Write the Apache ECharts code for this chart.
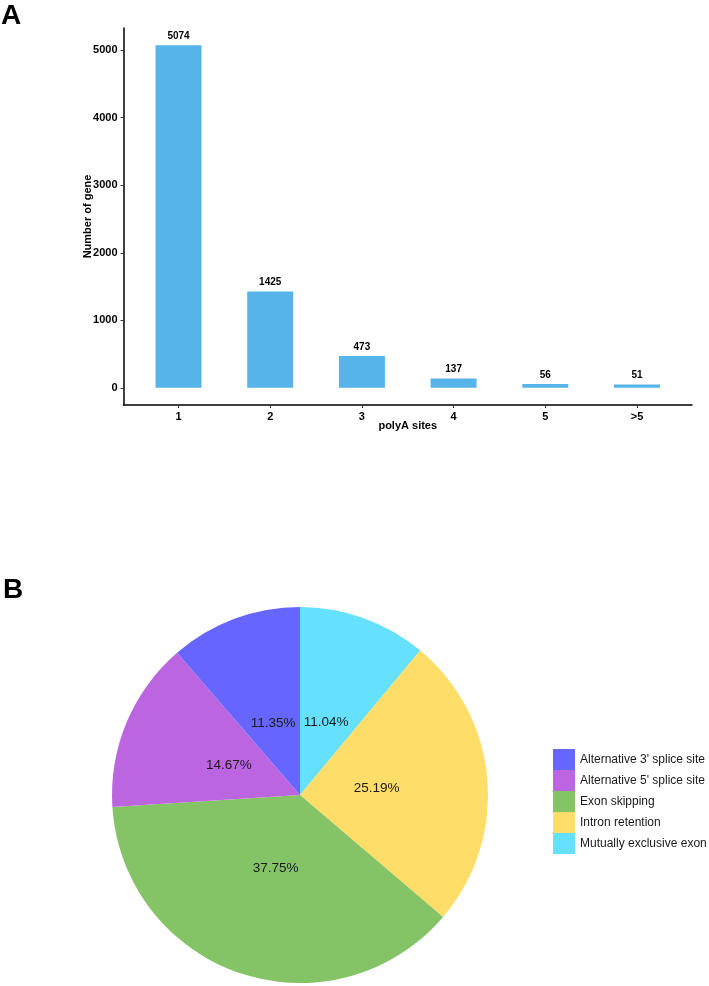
<!DOCTYPE html>
<html>
<head>
<meta charset="utf-8">
<script src="https://cdn.jsdelivr.net/npm/echarts@6/dist/echarts.min.js"></script>
<style>
html,body{margin:0;padding:0;background:#fff;}
#main{width:709px;height:986px;}
</style>
</head>
<body>
<div id="main"></div>
<script>
// Panel A data
const siteCategories = ['1', '2', '3', '4', '5', '>5'];
const geneCounts = [5074, 1425, 473, 137, 56, 51];
const yTickValues = [0, 1000, 2000, 3000, 4000, 5000];

// Panel B data
const eventNames = ['Alternative 3\' splice site', 'Alternative 5\' splice site', 'Exon skipping', 'Intron retention', 'Mutually exclusive exon'];
const eventPercents = [11.35, 14.67, 37.75, 25.19, 11.04];
const eventColors = ['#6666FF', '#BB66E0', '#84C466', '#FEDE68', '#66E0FF'];

const FONT = '"Liberation Sans", Arial, Helvetica, sans-serif';

const positions = siteCategories.map((c, i) => i + 1);
const barData = siteCategories.map((c, i) => [i + 1, geneCounts[i]]);

// pie drawn clockwise from 12 o'clock in reversed order (as in the reference)
const pieOrder = [4, 3, 2, 1, 0];
const pieData = pieOrder.map(i => ({
  name: eventNames[i],
  value: eventPercents[i],
  itemStyle: { color: eventColors[i] }
}));
const pieLabelData = pieOrder.map(i => ({
  name: eventNames[i],
  value: eventPercents[i]
}));

const yMin = -0.05 * geneCounts[0];
const yMax = geneCounts[0] * 1.05;

const chart = echarts.init(document.getElementById('main'), null, { renderer: 'canvas' });
chart.setOption({
  animation: false,
  backgroundColor: '#fff',
  textStyle: { fontFamily: FONT },
  graphic: [
    { type: 'text', left: 1, top: 2, style: { text: 'A', font: 'bold 28px ' + FONT, fill: '#000' } },
    { type: 'text', left: 3, top: 576, style: { text: 'B', font: 'bold 28px ' + FONT, fill: '#000' } }
  ],
  grid: { left: 123.5, right: 17, top: 28, bottom: 581, containLabel: false },
  xAxis: {
    type: 'value',
    min: 0.4,
    max: 6.6,
    name: 'polyA sites',
    nameLocation: 'middle',
    nameGap: 15,
    nameMoveOverlap: false,
    nameTextStyle: { fontFamily: FONT, fontSize: 11, fontWeight: 'bold', color: '#000' },
    axisLine: { show: true, onZero: false, lineStyle: { color: '#000', width: 1.5 } },
    axisTick: { show: true, length: 3, customValues: positions, lineStyle: { color: '#333', width: 1 } },
    axisLabel: {
      customValues: positions,
      formatter: v => siteCategories[Math.round(v) - 1] || '',
      fontFamily: FONT, fontSize: 11, fontWeight: 'bold', color: '#000', margin: 6
    },
    splitLine: { show: false }
  },
  yAxis: {
    type: 'value',
    min: yMin,
    max: yMax,
    name: 'Number of gene',
    nameLocation: 'middle',
    nameGap: 30,
    nameMoveOverlap: false,
    nameTextStyle: { fontFamily: FONT, fontSize: 11, fontWeight: 'bold', color: '#000' },
    axisLine: { show: true, onZero: false, lineStyle: { color: '#000', width: 1.5 } },
    axisTick: { show: true, length: 3, customValues: yTickValues, lineStyle: { color: '#333', width: 1 } },
    axisLabel: {
      customValues: yTickValues,
      formatter: v => String(Math.round(v)),
      fontFamily: FONT, fontSize: 11, fontWeight: 'bold', color: '#000', margin: 6
    },
    splitLine: { show: false }
  },
  legend: {
    orient: 'vertical',
    left: 553,
    top: 749,
    padding: 0,
    itemWidth: 22,
    itemHeight: 21,
    itemGap: 0,
    icon: 'rect',
    data: eventNames,
    textStyle: { fontFamily: FONT, fontSize: 12, color: '#1a1a1a' },
    selectedMode: false
  },
  series: [
    {
      type: 'bar',
      data: barData,
      barWidth: 46,
      itemStyle: { color: '#56B4E9' },
      label: {
        show: true,
        position: 'top',
        distance: 4,
        formatter: p => p.value[1],
        fontFamily: FONT, fontSize: 10, fontWeight: 'bold', color: '#000'
      }
    },
    {
      type: 'pie',
      center: [300, 795],
      radius: [0, 188],
      startAngle: 90,
      clockwise: true,
      data: pieData,
      label: { show: false },
      labelLine: { show: false },
      itemStyle: { borderWidth: 0 },
      emphasis: { disabled: true },
      silent: true
    },
    {
      type: 'pie',
      center: [300, 795],
      radius: [0, 148],
      startAngle: 90,
      clockwise: true,
      data: pieLabelData,
      itemStyle: { color: 'rgba(0,0,0,0)', borderWidth: 0 },
      label: {
        show: true,
        position: 'inside',
        formatter: p => p.value.toFixed(2) + '%',
        fontFamily: FONT, fontSize: 13.5, color: '#1a1a1a'
      },
      labelLine: { show: false },
      emphasis: { disabled: true },
      silent: true
    }
  ]
});
</script>
</body>
</html>
